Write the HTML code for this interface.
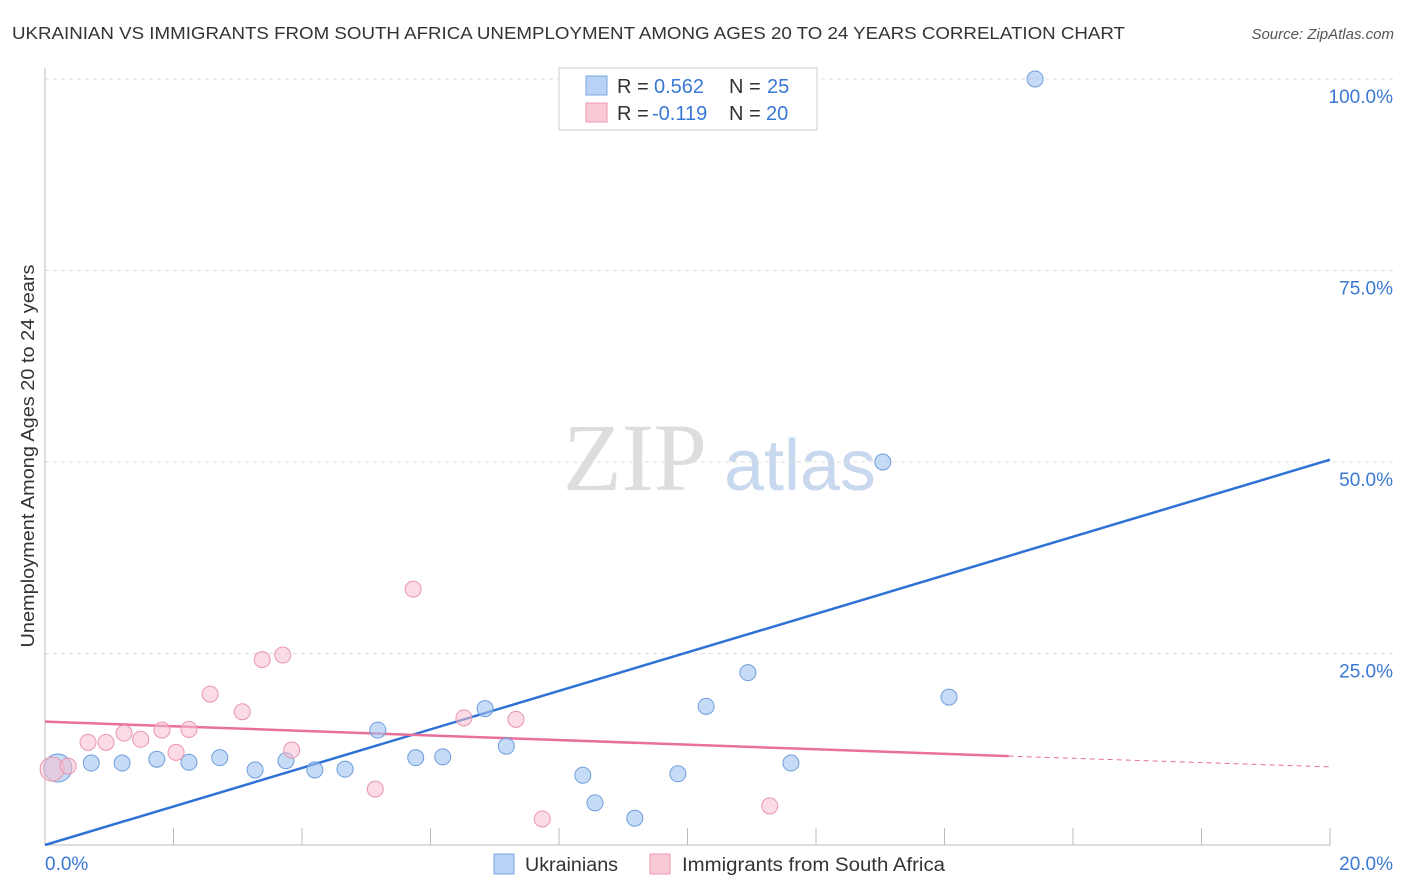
<!DOCTYPE html>
<html><head><meta charset="utf-8"><style>
body{margin:0;background:#fff;font-family:"Liberation Sans",sans-serif;}
#wrap{position:relative;width:1406px;height:892px;overflow:hidden;}
</style></head><body>
<div id="wrap">
<svg id="chart" width="1406" height="892" xmlns="http://www.w3.org/2000/svg">
<text x="12" y="39" font-size="17.5" fill="#333" textLength="1113" lengthAdjust="spacingAndGlyphs">UKRAINIAN VS IMMIGRANTS FROM SOUTH AFRICA UNEMPLOYMENT AMONG AGES 20 TO 24 YEARS CORRELATION CHART</text>
<text x="1394" y="39" font-size="15" fill="#555" text-anchor="end" font-style="italic">Source: ZipAtlas.com</text>
<text x="34" y="456" font-size="18" fill="#333" text-anchor="middle" textLength="383" lengthAdjust="spacingAndGlyphs" transform="rotate(-90 34 456)">Unemployment Among Ages 20 to 24 years</text>
<g><text x="635" y="490" font-size="96" font-family="Liberation Serif,serif" fill="#ddd" text-anchor="middle">ZIP</text><text x="800" y="490" font-size="72" fill="#c8d8ee" text-anchor="middle">atlas</text></g>
<g id="grid"></g><g id="axes"></g><g id="lines"></g><g id="pts"></g>
<g font-size="20">
<rect x="559" y="68" width="258" height="62" fill="#fff" stroke="#ccc"/>
<rect x="586" y="76" width="21" height="19" fill="#b7d2f5" stroke="#7aa6e0"/>
<rect x="586" y="103" width="21" height="19" fill="#f9c9d6" stroke="#ee9ab2"/>
<text x="617" y="93" fill="#333">R =</text><text x="654" y="93" fill="#3a78d4">0.562</text>
<text x="729" y="93" fill="#333">N =</text><text x="767" y="93" fill="#3a78d4">25</text>
<text x="617" y="120" fill="#333">R =</text><text x="652" y="120" fill="#3a78d4">-0.119</text>
<text x="729" y="120" fill="#333">N =</text><text x="766" y="120" fill="#3a78d4">20</text>
</g>
<g>
<rect x="494" y="854" width="20" height="20" fill="#b7d2f5" stroke="#7aa6e0"/>
<text x="525" y="871" font-size="19" fill="#333" textLength="93" lengthAdjust="spacingAndGlyphs">Ukrainians</text>
<rect x="650" y="854" width="20" height="20" fill="#f9c9d6" stroke="#ee9ab2"/>
<text x="682" y="871" font-size="19" fill="#333" textLength="263" lengthAdjust="spacingAndGlyphs">Immigrants from South Africa</text>
</g>
</svg></div>
<script>
const ukrX=[0.20,0.72,1.20,1.74,2.24,2.72,3.27,3.75,4.20,4.67,5.18,5.77,6.19,6.85,7.18,8.37,8.56,9.18,9.85,10.29,10.94,11.61,13.04,14.07,15.41];
const ukrY=[10.05,10.7,10.7,11.2,10.8,11.4,9.8,11.0,9.8,9.9,15.0,11.4,11.5,17.8,12.9,9.1,5.5,3.5,9.3,18.1,22.5,10.7,50.0,19.3,100];
const saX=[0.11,0.36,0.67,0.95,1.23,1.49,1.82,2.04,2.24,2.57,3.07,3.38,3.70,3.84,5.14,5.73,6.52,7.33,7.74,11.28];
const saY=[9.9,10.3,13.4,13.4,14.6,13.8,15.0,12.1,15.1,19.7,17.4,24.2,24.8,12.4,7.3,33.4,16.6,16.4,3.4,5.1];
const yTicks=[25,50,75,100];
const yTickLabels=["25.0%","50.0%","75.0%","100.0%"];
const xTicks=[0,2,4,6,8,10,12,14,16,18,20];
const ukrLine=[0,50.3];
const saLine=[16.1,11.6,10.2];
const saSolidEnd=15.0;
const NS="http://www.w3.org/2000/svg";
const sx=v=>45+v*64.25, sy=v=>845-v*7.66;
function mk(t,a,p){const e=document.createElementNS(NS,t);for(const k in a)e.setAttribute(k,a[k]);p.appendChild(e);return e;}
const grid=document.getElementById('grid'),axes=document.getElementById('axes'),lines=document.getElementById('lines'),pts=document.getElementById('pts');
yTicks.forEach((v,i)=>{
 const l=mk('line',{x1:45,x2:1393,y1:sy(v),y2:sy(v),stroke:'#ddd','stroke-dasharray':'4,4'},grid);
 
 
 const t=mk('text',{x:1393,y:sy(v)+24,'font-size':19,fill:'#3a78d4','text-anchor':'end'},axes);t.textContent=yTickLabels[i];
 
 
});
const ya=mk('line',{x1:45,x2:45,y1:68,y2:845,stroke:'#bbb'},axes);


const xa=mk('line',{x1:45,x2:1330,y1:845,y2:845,stroke:'#bbb'},axes);


xTicks.forEach(v=>{const l=mk('line',{x1:sx(v),x2:sx(v),y1:828,y2:845,stroke:'#bbb'},axes);
 
 });
[[0,"0.0%",'start',45],[20,"20.0%",'end',1393]].forEach(a=>{const t=mk('text',{x:a[3],y:870,'font-size':19,fill:'#3a78d4','text-anchor':a[2]},axes);t.textContent=a[1];
 
 });
const bl=mk('line',{x1:sx(0),y1:sy(ukrLine[0]),x2:sx(20),y2:sy(ukrLine[1]),stroke:'#2f72d6','stroke-width':2.5},lines);


const pl=mk('line',{x1:sx(0),y1:sy(saLine[0]),x2:sx(saSolidEnd),y2:sy(saLine[1]),stroke:'#e8709a','stroke-width':2.5},lines);


const pd=mk('line',{x1:sx(saSolidEnd),y1:sy(saLine[1]),x2:sx(20),y2:sy(saLine[2]),stroke:'#e8709a','stroke-width':1,'stroke-dasharray':'5,4'},lines);


ukrX.forEach((x,i)=>{const c=mk('circle',{cx:sx(x),cy:sy(ukrY[i]),r:i==0?14:8,fill:'rgba(160,196,240,0.6)',stroke:'#6f9ddc','stroke-width':1},pts);
 
 });
saX.forEach((x,i)=>{const c=mk('circle',{cx:sx(x),cy:sy(saY[i]),r:i==0?12:8,fill:'rgba(248,190,208,0.55)',stroke:'#ea95b0','stroke-width':1},pts);
 
 });
</script>
</body></html>
